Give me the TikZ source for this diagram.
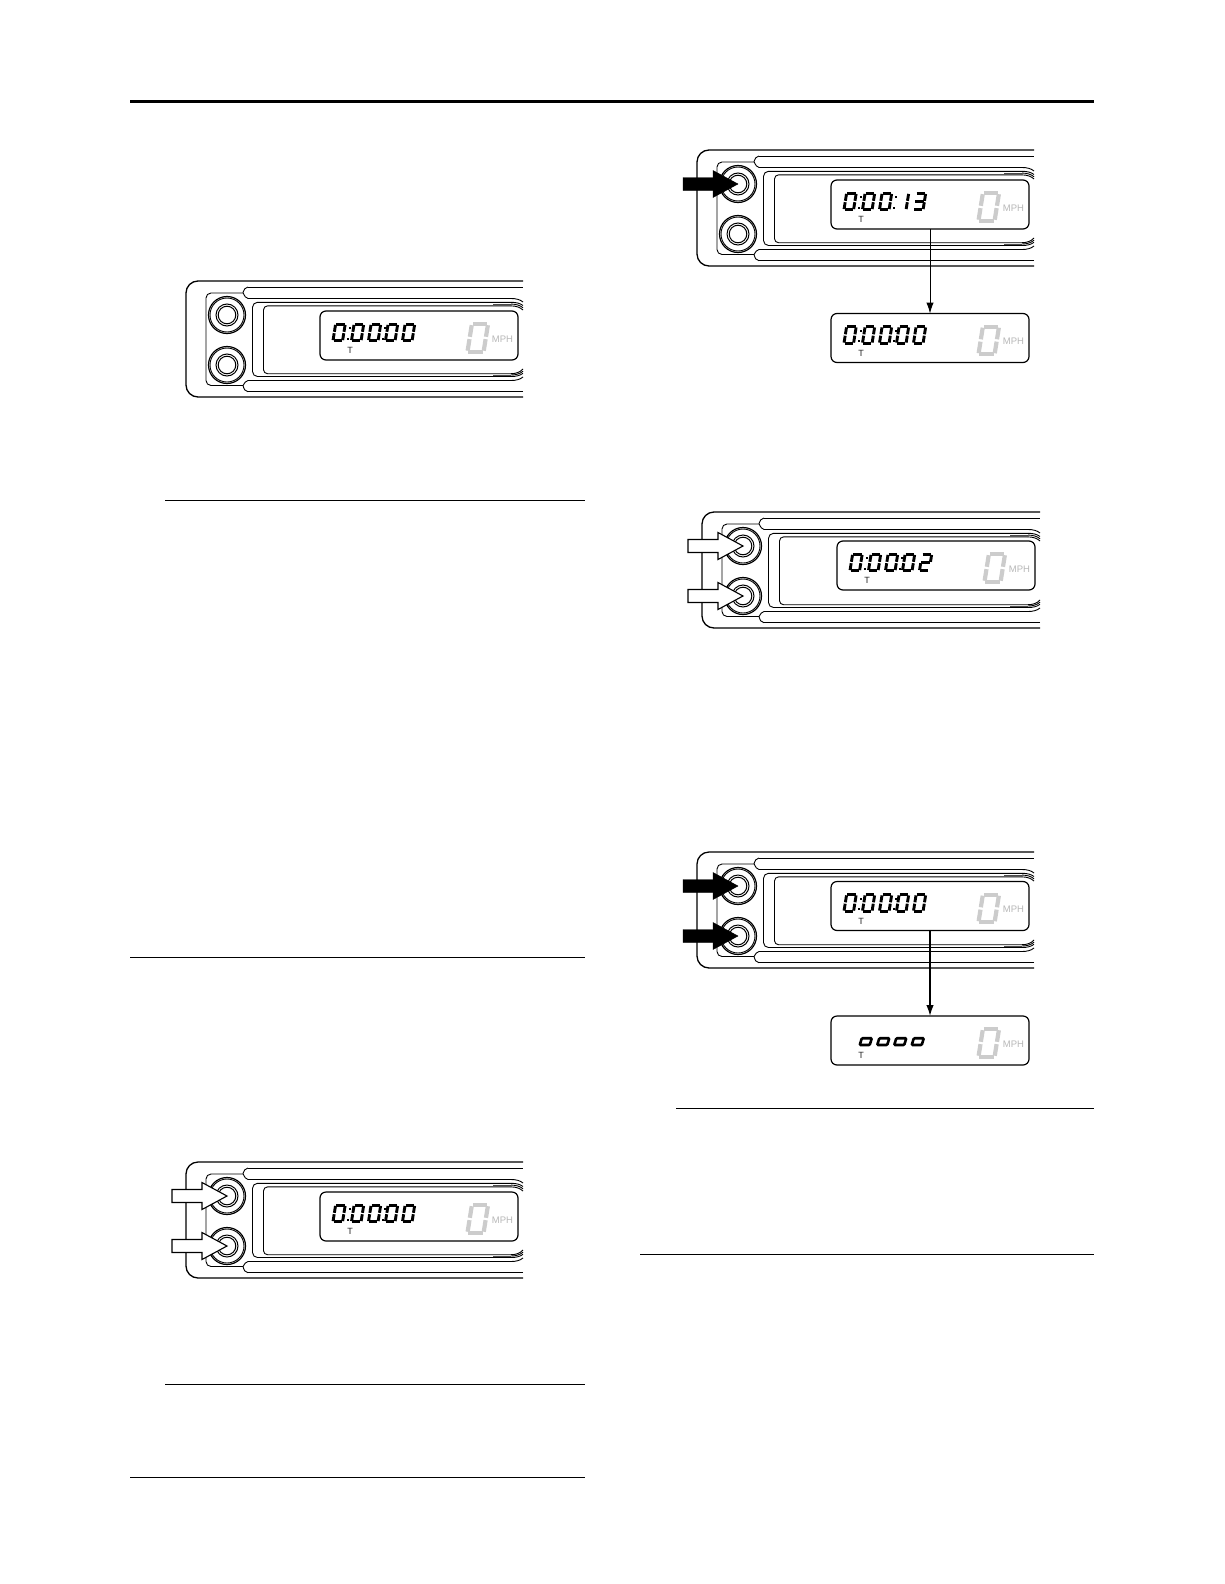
\documentclass[tikz,border=0pt]{standalone}
\usepackage{fontspec}
\setmainfont{Liberation Sans}
\usetikzlibrary{arrows.meta}
\tikzset{
  rulethin/.style={line width=1pt,black},
  rulehead/.style={line width=3pt,black},
  shell/.style={line width=1.3pt,black,rounded corners=12pt},
  trim/.style={line width=0.9pt,black},
  trimgray/.style={line width=0.8pt,black!70},
  dispbox/.style={draw=black,line width=1.2pt,fill=white,rounded corners=6pt,minimum width=198pt,minimum height=49pt,inner sep=0pt,outer sep=0pt,anchor=north west},
  knob/.style={circle,draw=black,fill=white,line width=1.2pt,minimum size=37pt,inner sep=0pt},
  seg/.style={line width=\segw pt,draw=\segc},
  whitearrow/.style={draw=black,fill=white,line width=1.1pt,line join=miter},
  blackarrow/.style={draw=black,fill=black,line width=0.4pt},
  drop/.style={line width=1pt,black,-{Latex[length=11pt,width=7.5pt]}},
  dropheavy/.style={line width=1.5pt,black,-{Latex[length=11pt,width=7.5pt]}},
  tlabel/.style={font=\fontsize{9}{10}\selectfont,text=black!85,inner sep=0pt},
  mphlabel/.style={font=\fontsize{9.5}{10}\selectfont,text=black!28,inner sep=0pt}
}
\def\segw{2.9}\def\segc{black}
% seven segments (local box 12 x 19)
\newcommand\sga{\draw[seg] (1.9,1.3)--(10.3,1.3);}
\newcommand\sgb{\draw[seg] (10.9,1.9)--(10.9,8.8);}
\newcommand\sgc{\draw[seg] (10.9,10.2)--(10.9,17.1);}
\newcommand\sgd{\draw[seg] (1.9,17.7)--(10.3,17.7);}
\newcommand\sge{\draw[seg] (1.3,10.2)--(1.3,17.1);}
\newcommand\sgf{\draw[seg] (1.3,1.9)--(1.3,8.8);}
\newcommand\sgg{\draw[seg] (1.9,9.5)--(10.3,9.5);}
\newcommand\dzero{\sga\sgb\sgc\sgd\sge\sgf}
\newcommand\dtwo{\sga\sgb\sgg\sge\sgd}
\newcommand\dthree{\sga\sgb\sgg\sgc\sgd}
\newcommand\done{\sgb\sgc}
\newcommand\putdigit[2]{\begin{scope}[shift={(#1,12)},xshift=3pt,xslant=0.16]#2\end{scope}}
\newcommand\colonat[1]{\fill (#1+1,16.2) rectangle +(2,2);\fill (#1-0.6,26.5) rectangle +(2,2);}
% flattened loop used in the self-check readout
\newcommand\putloop[1]{\begin{scope}[shift={(#1,21)},xslant=0.16]
  \draw[line width=2.6pt,rounded corners=1pt] (2,1.2) -- (12,1.2) -- (11,8) -- (1,8) -- cycle;\end{scope}}
\newcommand\timeread[2]{%
  \putdigit{11.5}{\dzero}\colonat{27.5}\putdigit{30}{\dzero}\putdigit{47}{\dzero}\colonat{63}%
  \putdigit{64}{#1}\putdigit{81}{#2}}
% display #1 name, #2 x, #3 y, #4 content
\newcommand\lcd[4]{\begin{scope}[shift={(#2,#3)}]
  \node[dispbox] (#1) at (0,0) {};
  #4
  \begin{scope}[shift={(145,11)},scale=1.68,xshift=3pt,xslant=0.16]
    \def\segw{4.2}\def\segc{black!20}\dzero
  \end{scope}
  \node[tlabel] (#1T) at (30,39.5) {T};
  \node[mphlabel] (#1M) at (182.5,28) {MPH};
\end{scope}}
% panel #1 name, #2 x, #3 y, #4 width
\newcommand\panel[4]{\begin{scope}[shift={(#2,#3)}]
  \draw[shell] (#4,0) -- (0,0) -- (0,116) -- (#4,116);
  \draw[trim] (62,6) -- (#4,6);
  \draw[trim] (62,17.5) -- (#4-12,17.5) .. controls (#4-7,17.5) and (#4-3,18.5) .. (#4,21);
  \draw[trim] (#4,96) .. controls (#4-3,98.5) and (#4-7,99.5) .. (#4-12,99.5) -- (62,99.5);
  \draw[trim] (#4,110.7) -- (62,110.7);
  \draw[trim] (62,6) .. controls (59,6) and (58,9) .. (57,11.5) .. controls (58.5,15) and (60,17.5) .. (62,17.5);
  \draw[trim] (62,99.5) .. controls (60,99.5) and (58.5,102) .. (57,104.5) .. controls (58,108) and (59,110.7) .. (62,110.7);
  \draw[trim,rounded corners=5pt] (57,12) -- (20,12) -- (20,104.5) -- (57,104.5);
  % centre frame
  \draw[trim,rounded corners=5pt] (#4-12,21.3) -- (66.5,21.3) -- (66.5,95.5) -- (#4-12,95.5);
  \draw[trim,rounded corners=4pt] (#4-12,24.9) -- (77.5,24.9) -- (77.5,92.7) -- (#4-12,92.7);
  \draw[trimgray] (#4-30,23.1) -- (#4-12,23.1);
  \draw[trimgray] (#4-30,94) -- (#4-12,94);
  \draw[trim] (#4-12,21.3) .. controls (#4-7,21.3) and (#4-3,22.2) .. (#4,24.5);
  \draw[trim] (#4-12,23.1) .. controls (#4-7,23.1) and (#4-3,24.2) .. (#4,26.8);
  \draw[trim] (#4-12,24.9) .. controls (#4-7,24.9) and (#4-3,26.2) .. (#4,29);
  \draw[trim] (#4-12,95.5) .. controls (#4-7,95.5) and (#4-3,94.6) .. (#4,92.3);
  \draw[trim] (#4-12,94) .. controls (#4-7,94) and (#4-3,92.8) .. (#4,90.2);
  \draw[trim] (#4-12,92.7) .. controls (#4-7,92.7) and (#4-3,91.2) .. (#4,88);
  % knobs
  \foreach \n/\yy in {a/34,b/84}{
    \node[knob] (#1\n) at (41,\yy) {};
    \draw[line width=0.9pt] (#1\n) circle (17);
    \draw[line width=1pt] (#1\n) circle (11);
    \draw[line width=1pt] (#1\n) circle (8.8);
  }
\end{scope}}
\newcommand\pointer[2]{% style, knob name
  \draw[#1] ([xshift=-55pt,yshift=6.5pt]#2.center) -- ([xshift=-25pt,yshift=6.5pt]#2.center)
    -- ([xshift=-25pt,yshift=13.5pt]#2.center) -- ([xshift=0pt,yshift=0pt]#2.center)
    -- ([xshift=-25pt,yshift=-13.5pt]#2.center) -- ([xshift=-25pt,yshift=-6.5pt]#2.center)
    -- ([xshift=-55pt,yshift=-6.5pt]#2.center) -- cycle;}
\begin{document}
\begin{tikzpicture}[x=1pt,y=-1pt]
\fill[white] (0,0) rectangle (1224,1584);
\useasboundingbox (0,0) rectangle (1224,1584);
% rules
\draw[rulehead] (130,102) -- (1094,102);
\draw[rulethin] (165,500.5) -- (585,500.5);
\draw[rulethin] (130,957) -- (585,957);
\draw[rulethin] (165,1384) -- (585,1384);
\draw[rulethin] (130,1477) -- (585,1477);
\draw[rulethin] (676,1108) -- (1094,1108);
\draw[rulethin] (640,1254) -- (1094,1254);
% panel A
\panel{pa}{186}{281}{337}
\lcd{da}{320}{311}{\timeread{\dzero}{\dzero}}
% panel B
\panel{pb}{697}{150}{337}
\lcd{db}{831}{180}{\putdigit{11.5}{\dzero}\colonat{27.5}\putdigit{30}{\dzero}\putdigit{47}{\dzero}\colonat{63}\putdigit{64}{\done}\putdigit{81}{\dthree}}
\lcd{dc}{831}{313.5}{\timeread{\dzero}{\dzero}}
\draw[drop] (db.south) -- (dc.north);
\pointer{blackarrow}{pba}
% panel C
\panel{pc}{702}{512}{338}
\lcd{dd}{837}{541}{\timeread{\dzero}{\dtwo}}
\pointer{whitearrow}{pca}
\pointer{whitearrow}{pcb}
% panel D
\panel{pd}{697}{852}{337}
\lcd{de}{831}{881.5}{\timeread{\dzero}{\dzero}}
\lcd{df}{831}{1016}{\putloop{29}\putloop{46.5}\putloop{63.5}\putloop{81}}
\draw[dropheavy] (de.south) -- (df.north);
\pointer{blackarrow}{pda}
\pointer{blackarrow}{pdb}
% panel E
\panel{pe}{186}{1162}{337}
\lcd{dg}{320}{1192}{\timeread{\dzero}{\dzero}}
\pointer{whitearrow}{pea}
\pointer{whitearrow}{peb}
\end{tikzpicture}
\end{document}
